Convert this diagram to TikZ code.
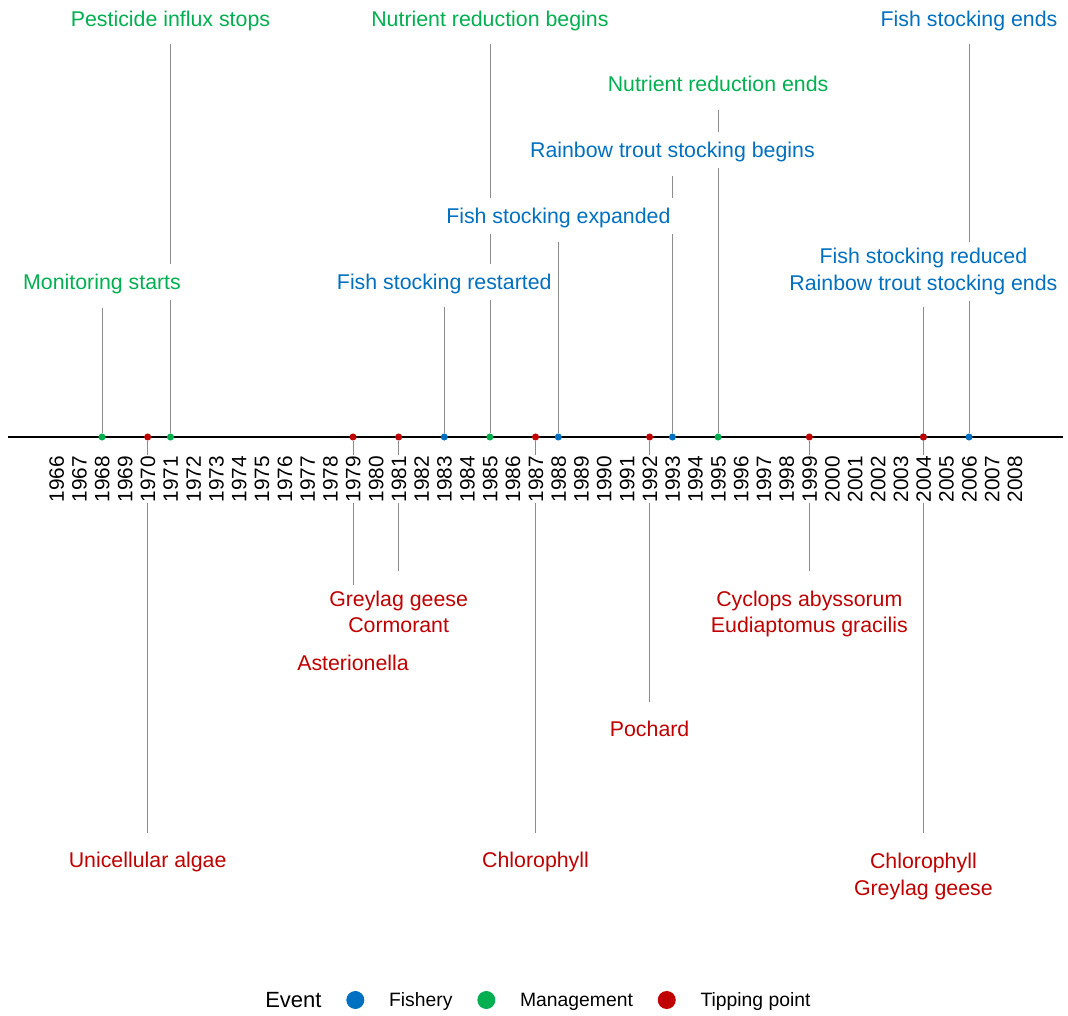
\documentclass[tikz,border=0pt]{standalone}
\usepackage{fontspec}
\setmainfont{Liberation Sans}
\usetikzlibrary{positioning}
\definecolor{fishery}{RGB}{0,112,192}
\definecolor{management}{RGB}{0,176,80}
\definecolor{tipping}{RGB}{192,0,0}
\definecolor{stemgray}{RGB}{140,140,140}
% strut with the ascent and descent of the label font
\newcommand\lstrut{\rule[-0.212em]{0pt}{1.117em}}
\tikzset{
  evdot/.style={circle,fill=#1,inner sep=0pt,minimum size=5.3pt},
  evstem/.style={draw=stemgray,line width=0.6pt},
  evlabel/.style={fill=white,text=#1,align=center,inner xsep=3.75pt,inner ysep=4.5pt,
    font=\fontsize{16pt}{20.2pt}\selectfont,execute at begin node=\lstrut},
  yearlabel/.style={rotate=90,anchor=east,fill=white,inner sep=0.5pt,
    text height=11.2pt,text depth=0pt,font=\fontsize{15.6pt}{18pt}\selectfont},
  legdot/.style={circle,fill=#1,inner sep=0pt,minimum size=13.5pt},
  legtext/.style={inner sep=0pt,text height=10.4pt,text depth=0pt,
    font=\fontsize{14.5pt}{17pt}\selectfont}
}
% year/kind/stem end/label centre/text (rows in pixels)
\def\events{1968/management/308/282/Monitoring starts,
  1971/management/44/19/Pesticide influx stops,
  1983/fishery/307/282/Fish stocking restarted,
  1985/management/44/19/Nutrient reduction begins,
  1988/fishery/242/216/Fish stocking expanded,
  1993/fishery/176/150/Rainbow trout stocking begins,
  1995/management/110/84/Nutrient reduction ends,
  2004/fishery/307/271.5/{Fish stocking reduced\\\lstrut Rainbow trout stocking ends},
  2006/fishery/44/19/Fish stocking ends,
  1970/tipping/833/860/Unicellular algae,
  1979/tipping/636/663/Asterionella,
  1981/tipping/571/614/{Greylag geese\\\lstrut Cormorant},
  1987/tipping/833/860/Chlorophyll,
  1992/tipping/702/729.5/Pochard,
  1999/tipping/571/614/{Cyclops abyssorum\\\lstrut Eudiaptomus gracilis},
  2004/tipping/833/876.5/{Chlorophyll\\\lstrut Greylag geese}}
\begin{document}
\begin{tikzpicture}[x=0.75pt,y=-0.75pt]
\useasboundingbox (0,0) rectangle (1068,1016);
\coordinate (axl) at (8,437);
\coordinate (axr) at (1063,437);
\draw[line width=0.8pt] (axl) -- (axr);
% dots and stems
\foreach \yr/\kind/\ye/\yl/\txt [count=\n] in \events {
  \pgfmathsetmacro\xx{56.4+(\yr-1966)*22.816}
  \node[evdot=\kind] (dot\n) at (\xx,437) {};
  \coordinate (end\n) at (\xx,\ye);
  \draw[evstem] (dot\n) -- (end\n);
}
% years
\foreach \yr in {1966,...,2008} {
  \pgfmathsetmacro\xx{56.4+(\yr-1966)*22.816}
  \node[yearlabel] (yr\yr) at (\xx,455) {\yr};
}
% labels
\foreach \yr/\kind/\ye/\yl/\txt [count=\n] in \events {
  \pgfmathsetmacro\xx{56.4+(\yr-1966)*22.816}
  \node[evlabel=\kind] (lab\n) at (\xx,\yl) {\txt};
}
% legend
\node[legtext,anchor=west,text height=11.8pt,font=\fontsize{16.5pt}{19pt}\selectfont] (legtitle) at (265,1000) {Event};
\node[legdot=fishery,right=18.2pt of legtitle] (legfish) {};
\node[legtext,right=18.2pt of legfish] (legfishtxt) {Fishery};
\node[legdot=management,right=18.2pt of legfishtxt] (legman) {};
\node[legtext,right=18.2pt of legman] (legmantxt) {Management};
\node[legdot=tipping,right=18.2pt of legmantxt] (legtip) {};
\node[legtext,right=18.2pt of legtip] (legtiptxt) {Tipping point};
\end{tikzpicture}
\end{document}
